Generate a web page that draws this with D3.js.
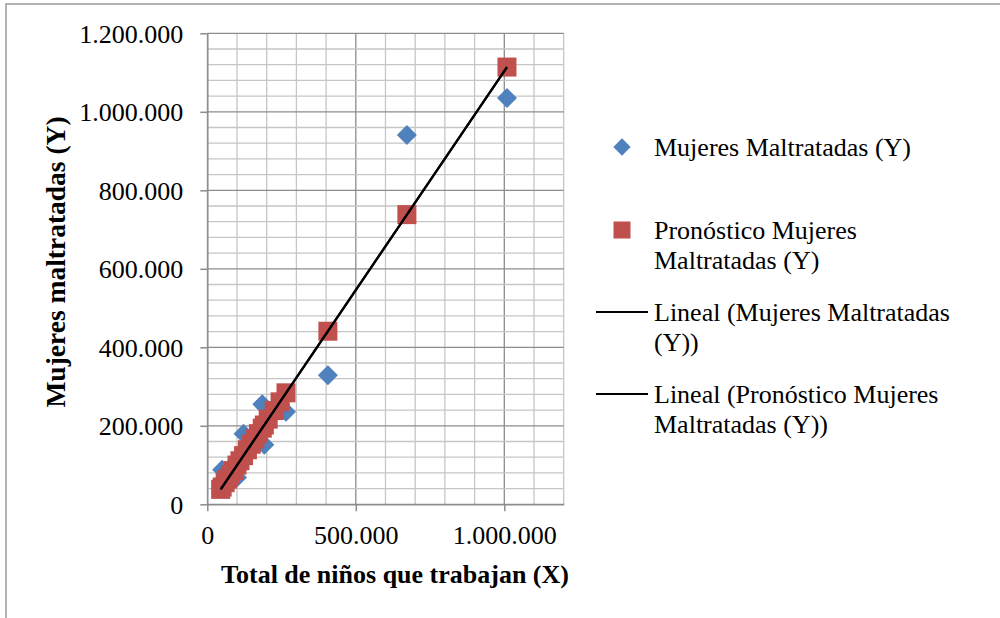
<!DOCTYPE html>
<html>
<head>
<meta charset="utf-8">
<script src="https://cdn.jsdelivr.net/npm/d3@7"></script>
<style>
  body { margin: 0; background: white; }
  text { font-family: "Liberation Serif", "Times New Roman", serif; }
</style>
</head>
<body>
<div id="canvas"></div>
<script>
const width = 1000;
const height = 618;

// data
const ninos = [45000, 50000, 60000, 68000, 78000, 88000, 100000, 110000, 122000, 135000, 148000,
    160000, 172000, 185000, 192000, 205000, 225000, 245000, 265000, 406000, 672000, 1009000];
const mujeres = [40000, 88000, 55000, 66000, 72000, 88000, 68000, 112000, 180000, 136000, 155000,
    165000, 185000, 255000, 152000, 215000, 235000, 255000, 236000, 329000, 941000, 1035000];
const pronostico = [38000, 44000, 55000, 64000, 75000, 86000, 100000, 111000, 124000, 139000, 153000,
    167000, 180000, 194000, 202000, 217000, 239000, 261000, 284000, 441000, 738000, 1114000];

const xTicks = [0, 500000, 1000000];
const yTicks = [0, 200000, 400000, 600000, 800000, 1000000, 1200000];
const legendLabels = [
    ["Mujeres Maltratadas (Y)"],
    ["Pronóstico Mujeres", "Maltratadas (Y)"],
    ["Lineal (Mujeres Maltratadas", "(Y))"],
    ["Lineal (Pronóstico Mujeres", "Maltratadas (Y))"]
];

const blue = "#4f81bd";
const red = "#c0504d";
const gridMajor = "#8c8c8c";
const gridMinor = "#c6c6c6";

const fmt = d3.formatLocale({decimal: ",", thousands: ".", grouping: [3], currency: ["", ""]}).format(",d");

const svg = d3.select("#canvas")
    .append("svg")
    .attr("width", width)
    .attr("height", height);

svg.append("rect")
    .attr("width", width)
    .attr("height", height)
    .attr("fill", "white");

// outer frame (only left and top edges visible)
svg.append("path")
    .attr("d", "M6,618V4H1000")
    .attr("fill", "none")
    .attr("stroke", "#9a9a9a")
    .attr("stroke-width", 1.5);

const x = d3.scaleLinear().domain([0, 1200000]).range([207.3, 563.7]);
const y = d3.scaleLinear().domain([0, 1200000]).range([504.3, 33.3]);

// gridlines: minor every 100.000 / 40.000, darker at the major ticks
svg.append("g").selectAll("line")
    .data(d3.range(0, 1200001, 100000))
    .join("line")
    .attr("x1", d => x(d)).attr("x2", d => x(d))
    .attr("y1", y(0)).attr("y2", y(1200000))
    .attr("stroke", d => d % 500000 === 0 && d > 0 ? gridMajor : gridMinor)
    .attr("stroke-width", 1.3);

svg.append("g").selectAll("line")
    .data(d3.range(0, 1200001, 40000))
    .join("line")
    .attr("x1", x(0)).attr("x2", x(1200000))
    .attr("y1", d => y(d)).attr("y2", d => y(d))
    .attr("stroke", d => d % 200000 === 0 ? gridMajor : gridMinor)
    .attr("stroke-width", 1.3);

// axes
let xAxis = svg.append("g")
    .attr("transform", `translate(0,${y(0)})`)
    .call(d3.axisBottom(x).tickValues(xTicks).tickFormat(fmt)
        .tickSize(7).tickSizeOuter(0).tickPadding(14));

let yAxis = svg.append("g")
    .attr("transform", `translate(${x(0)},0)`)
    .call(d3.axisLeft(y).tickValues(yTicks).tickFormat(fmt)
        .tickSize(7).tickSizeOuter(0).tickPadding(17));

[xAxis, yAxis].forEach(a => {
    a.selectAll("path, line").attr("stroke", gridMajor).attr("stroke-width", 1.5);
    a.selectAll("text")
        .attr("fill", "black")
        .style("font-family", "'Liberation Serif', serif")
        .style("font-size", "26px");
});
yAxis.selectAll("text").attr("dy", "0.35em");

// axis titles
svg.append("text")
    .attr("x", 395)
    .attr("y", 583)
    .attr("text-anchor", "middle")
    .attr("font-size", 26)
    .attr("font-weight", "bold")
    .text("Total de niños que trabajan (X)");

svg.append("text")
    .attr("transform", "translate(65,262) rotate(-90)")
    .attr("text-anchor", "middle")
    .attr("font-size", 27.5)
    .attr("font-weight", "bold")
    .text("Mujeres maltratadas (Y)");

// points
const diamond = d3.symbol().type(d3.symbolSquare).size(200);

svg.append("g").selectAll("path")
    .data(ninos)
    .join("path")
    .attr("d", diamond)
    .attr("transform", (d, i) => `translate(${x(d)},${y(mujeres[i])}) rotate(45)`)
    .attr("fill", blue);

svg.append("g").selectAll("rect")
    .data(ninos)
    .join("rect")
    .attr("x", d => x(d) - 9.5)
    .attr("y", (d, i) => y(pronostico[i]) - 9.5)
    .attr("width", 19)
    .attr("height", 19)
    .attr("fill", red);

// linear trend lines (both coincide), drawn from first to last forecast point
const first = 0;
const last = ninos.length - 1;
for (let k = 0; k < 2; k++) {
    svg.append("line")
        .attr("x1", x(ninos[first])).attr("y1", y(pronostico[first]))
        .attr("x2", x(ninos[last])).attr("y2", y(pronostico[last]))
        .attr("stroke", "black")
        .attr("stroke-width", 2.2);
}

// legend
const legendTop = [147, 230, 312, 394];
const legend = svg.append("g");

legendLabels.forEach((lines, i) => {
    let cy = legendTop[i];
    if (i === 0) {
        legend.append("path")
            .attr("d", d3.symbol().type(d3.symbolSquare).size(150))
            .attr("transform", `translate(622,${cy}) rotate(45)`)
            .attr("fill", blue);
    } else if (i === 1) {
        legend.append("rect")
            .attr("x", 613.5).attr("y", cy - 8.5)
            .attr("width", 17).attr("height", 17)
            .attr("fill", red);
    } else {
        legend.append("line")
            .attr("x1", 596).attr("x2", 648)
            .attr("y1", cy).attr("y2", cy)
            .attr("stroke", "black")
            .attr("stroke-width", 2);
    }
    lines.forEach((t, j) => {
        legend.append("text")
            .attr("x", 654)
            .attr("y", cy + 9 + j * 29.5)
            .attr("font-size", 26)
            .text(t);
    });
});
</script>
</body>
</html>
